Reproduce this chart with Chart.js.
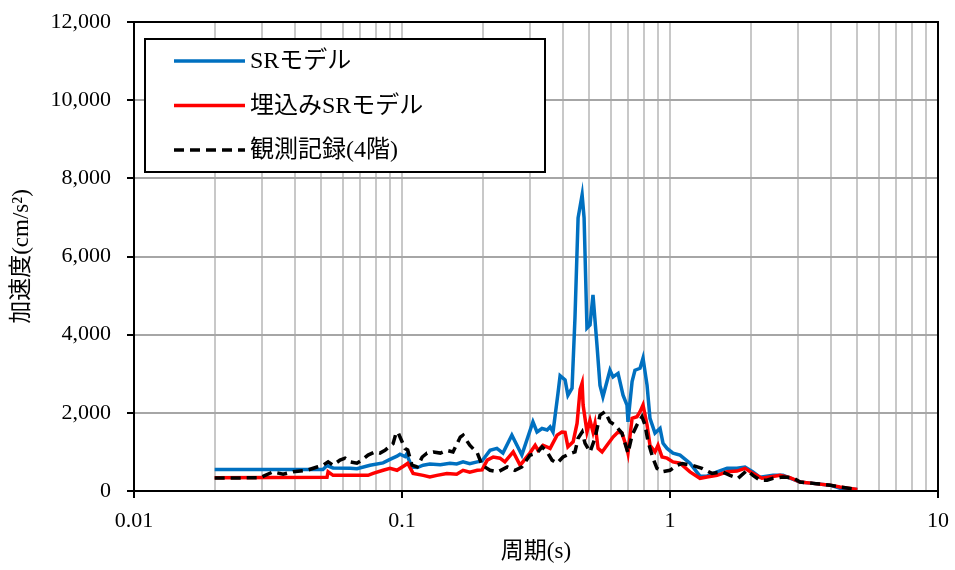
<!DOCTYPE html>
<html>
<head>
<meta charset="utf-8">
<script src="https://cdn.jsdelivr.net/npm/chart.js@4.4.1/dist/chart.umd.min.js"></script>
<style>
  html, body { margin: 0; padding: 0; background: #fff; }
  #wrap { width: 955px; height: 570px; }
</style>
</head>
<body>
<div id="wrap"><canvas id="chart" width="955" height="570"></canvas></div>
<script>
// Period axis (s): gridlines at 1..9 per decade, labels only at decades
const xGrid = [0.01, 0.02, 0.03, 0.04, 0.05, 0.06, 0.07, 0.08, 0.09,
               0.1, 0.2, 0.3, 0.4, 0.5, 0.6, 0.7, 0.8, 0.9,
               1, 2, 3, 4, 5, 6, 7, 8, 9, 10];
const xMajor = [0.01, 0.1, 1, 10];
const xMajorLabels = ['0.01', '0.1', '1', '10'];

// SRモデル
const periodsSR = [0.02, 0.0416, 0.0507, 0.0525, 0.0553, 0.064, 0.0679, 0.076, 0.085, 0.0902,
  0.0958, 0.0983, 0.1026, 0.104, 0.109, 0.114, 0.12, 0.127, 0.139, 0.151,
  0.16, 0.169, 0.179, 0.191, 0.199, 0.204, 0.213, 0.226, 0.238, 0.257,
  0.28, 0.308, 0.319, 0.333, 0.348, 0.357, 0.366, 0.382, 0.389, 0.406,
  0.416, 0.431, 0.442, 0.454, 0.47, 0.478, 0.49, 0.503, 0.516, 0.534,
  0.548, 0.562, 0.597, 0.613, 0.64, 0.668, 0.691, 0.697, 0.722, 0.74,
  0.773, 0.793, 0.821, 0.842, 0.879, 0.918, 0.942, 0.975, 1.026, 1.09,
  1.187, 1.294, 1.374, 1.498, 1.633, 1.778, 1.905, 2.04, 2.167, 2.423,
  2.641, 3.056, 3.417, 3.954, 4.309, 5.0];
const accelSR = [550, 550, 550, 650, 590, 580, 570, 660, 720, 810,
  890, 940, 880, 940, 610, 600, 660, 690, 670, 710,
  690, 745, 700, 745, 770, 870, 1040, 1090, 970, 1430,
  920, 1770, 1510, 1600, 1560, 1640, 1510, 2500, 2950, 2840,
  2450, 2630, 4430, 6990, 7580, 6990, 4170, 4250, 5020, 3730,
  2700, 2410, 3090, 2920, 3010, 2450, 2200, 1770, 2800, 3090,
  3140, 3400, 2710, 1860, 1480, 1600, 1220, 1090, 970, 920,
  710, 380, 380, 490, 580, 580, 615, 490, 350, 400,
  400, 230, 195, 150, 70, 40];

// 埋込みSRモデル
const periodsEmb = [0.02, 0.0525, 0.053, 0.0553, 0.0747, 0.078, 0.085, 0.0902, 0.0958, 0.1026,
  0.105, 0.11, 0.12, 0.127, 0.135, 0.147, 0.16, 0.169, 0.179, 0.191,
  0.199, 0.208, 0.219, 0.232, 0.242, 0.26, 0.276, 0.3, 0.314, 0.322,
  0.336, 0.357, 0.379, 0.395, 0.406, 0.416, 0.435, 0.45, 0.462, 0.47,
  0.474, 0.49, 0.503, 0.516, 0.525, 0.539, 0.558, 0.582, 0.613, 0.64,
  0.662, 0.691, 0.697, 0.722, 0.753, 0.773, 0.793, 0.821, 0.842, 0.879,
  0.902, 0.934, 0.975, 1.026, 1.09, 1.187, 1.294, 1.374, 1.498, 1.633,
  1.778, 1.905, 2.04, 2.204, 2.361, 2.573, 2.804, 3.056, 3.417, 3.954,
  4.309, 5.0];
const accelEmb = [340, 350, 490, 400, 400, 450, 530, 580, 530, 660,
  710, 450, 400, 360, 400, 450, 430, 530, 480, 530,
  540, 790, 870, 840, 745, 1000, 660, 970, 1170, 1040,
  1170, 1090, 1430, 1510, 1500, 1130, 1260, 1730, 2600, 2760,
  2200, 1510, 1810, 1510, 1730, 1090, 1000, 1170, 1380, 1510,
  1480, 1090, 970, 1860, 1900, 2030, 2200, 1690, 1170, 1000,
  1170, 870, 840, 745, 710, 490, 325, 360, 400, 490,
  510, 580, 450, 325, 360, 400, 340, 230, 195, 150,
  100, 40];

// 観測記録(4階)
const periodsObs = [0.02, 0.0295, 0.033, 0.036, 0.0392, 0.0442, 0.0482, 0.0507, 0.053, 0.0553,
  0.0587, 0.0613, 0.064, 0.0679, 0.0709, 0.0747, 0.0793, 0.0828, 0.0864, 0.0902,
  0.0926, 0.095, 0.0966, 0.0983, 0.1026, 0.105, 0.109, 0.114, 0.119, 0.124,
  0.131, 0.139, 0.147, 0.155, 0.165, 0.169, 0.179, 0.191, 0.199, 0.213,
  0.228, 0.247, 0.264, 0.28, 0.3, 0.319, 0.333, 0.348, 0.363, 0.379,
  0.399, 0.424, 0.442, 0.454, 0.47, 0.482, 0.503, 0.525, 0.548, 0.572,
  0.597, 0.623, 0.662, 0.697, 0.722, 0.753, 0.786, 0.807, 0.828, 0.864,
  0.894, 0.934, 1.0, 1.062, 1.109, 1.208, 1.316, 1.435, 1.563, 1.675,
  1.794, 1.938, 2.04, 2.167, 2.301, 2.423, 2.641, 2.877, 3.056, 3.417,
  3.954, 4.309, 5.0];
const accelObs = [330, 340, 490, 430, 490, 530, 615, 660, 745, 660,
  790, 840, 745, 710, 790, 920, 1000, 970, 1040, 1150,
  1210, 1480, 1510, 1380, 1090, 1050, 660, 615, 870, 970,
  1000, 970, 1040, 1000, 1380, 1430, 1170, 970, 660, 530,
  490, 615, 530, 615, 915, 970, 1130, 1000, 790, 710,
  870, 960, 1000, 1350, 1510, 1220, 1000, 1350, 1940, 2030,
  1770, 1690, 1480, 970, 1430, 1690, 1900, 1690, 1260, 840,
  580, 490, 530, 660, 700, 660, 580, 450, 490, 400,
  325, 530, 400, 275, 275, 325, 360, 340, 230, 195,
  150, 100, 40];

const serif = "'Liberation Serif', 'Noto Sans CJK JP', serif";

function toPoints(xs, ys) {
    return xs.map((x, i) => ({ x: x, y: ys[i] }));
}

// black frame round the plot area
const framePlugin = {
    id: 'frame',
    afterDatasetsDraw(chart) {
        const a = chart.chartArea, ctx = chart.ctx;
        ctx.save();
        ctx.strokeStyle = '#000';
        ctx.lineWidth = 2;
        ctx.strokeRect(a.left, a.top, a.right - a.left, a.bottom - a.top);
        ctx.restore();
    }
};

// boxed legend inside the plot, upper left
const boxLegend = {
    id: 'boxLegend',
    afterDraw(chart) {
        const ctx = chart.ctx;
        const bx = 145, by = 39, bw = 400, bh = 133;
        ctx.save();
        ctx.fillStyle = '#fff';
        ctx.fillRect(bx, by, bw, bh);
        ctx.strokeStyle = '#000';
        ctx.lineWidth = 2;
        ctx.strokeRect(bx, by, bw, bh);
        ctx.font = '24px ' + serif;
        ctx.textBaseline = 'middle';
        chart.data.datasets.forEach((ds, i) => {
            const y = 61 + i * 44.5;
            ctx.beginPath();
            ctx.strokeStyle = ds.borderColor;
            ctx.lineWidth = ds.borderWidth;
            ctx.setLineDash(ds.borderDash || []);
            ctx.moveTo(174, y);
            ctx.lineTo(245, y);
            ctx.stroke();
            ctx.setLineDash([]);
            ctx.fillStyle = '#000';
            ctx.fillText(ds.label, 250, y + 1);
        });
        ctx.restore();
    }
};

new Chart(document.getElementById('chart'), {
    type: 'line',
    data: {
        datasets: [
            { label: 'SRモデル', data: toPoints(periodsSR, accelSR),
              borderColor: '#0070C0', borderWidth: 3.5, order: 3 },
            { label: '埋込みSRモデル', data: toPoints(periodsEmb, accelEmb),
              borderColor: '#FF0000', borderWidth: 3.5, order: 2 },
            { label: '観測記録(4階)', data: toPoints(periodsObs, accelObs),
              borderColor: '#000000', borderWidth: 3.5, borderDash: [10, 6], order: 1 }
        ]
    },
    options: {
        responsive: false,
        animation: false,
        devicePixelRatio: 1,
        layout: { padding: { top: 22, right: 17, left: 0, bottom: 0 } },
        elements: {
            point: { radius: 0 },
            line: { tension: 0, fill: false, borderCapStyle: 'butt' }
        },
        plugins: {
            legend: { display: false },
            tooltip: { enabled: false }
        },
        scales: {
            x: {
                type: 'logarithmic',
                min: 0.01,
                max: 10,
                afterBuildTicks: (scale) => {
                    scale.ticks = xGrid.map(v => ({ value: v, major: xMajor.includes(v) }));
                },
                afterFit: (scale) => {
                    scale.height = 79;
                    scale.paddingLeft = 0;
                    scale.paddingRight = 0;
                },
                border: { display: false },
                grid: {
                    color: '#c8c8c8',
                    lineWidth: 2,
                    drawTicks: true,
                    tickLength: 7,
                    tickWidth: 2,
                    tickColor: (c) => (c.tick && xMajor.includes(c.tick.value)) ? '#000' : 'rgba(0,0,0,0)'
                },
                ticks: {
                    autoSkip: false,
                    maxRotation: 0,
                    padding: 10,
                    color: '#000',
                    font: { size: 22, family: serif },
                    callback: (value) => {
                        const k = xMajor.indexOf(value);
                        return k >= 0 ? xMajorLabels[k] : '';
                    }
                },
                title: {
                    display: true,
                    text: '周期(s)',
                    color: '#000',
                    font: { size: 23, family: serif },
                    padding: { top: 0, bottom: 4 }
                }
            },
            y: {
                min: 0,
                max: 12000,
                afterFit: (scale) => {
                    scale.width = 134;
                    scale.paddingTop = 0;
                    scale.paddingBottom = 0;
                },
                border: { display: false },
                grid: {
                    color: '#a6a6a6',
                    lineWidth: 2,
                    drawTicks: true,
                    tickLength: 7,
                    tickWidth: 2,
                    tickColor: '#000'
                },
                ticks: {
                    stepSize: 2000,
                    padding: 16,
                    color: '#000',
                    font: { size: 22, family: serif },
                    callback: (value) => value.toLocaleString('en-US')
                },
                title: {
                    display: true,
                    text: '加速度(cm/s²)',
                    color: '#000',
                    font: { size: 23, family: serif },
                    padding: { top: 8, bottom: 0 }
                }
            }
        }
    },
    plugins: [framePlugin, boxLegend]
});
</script>
</body>
</html>
